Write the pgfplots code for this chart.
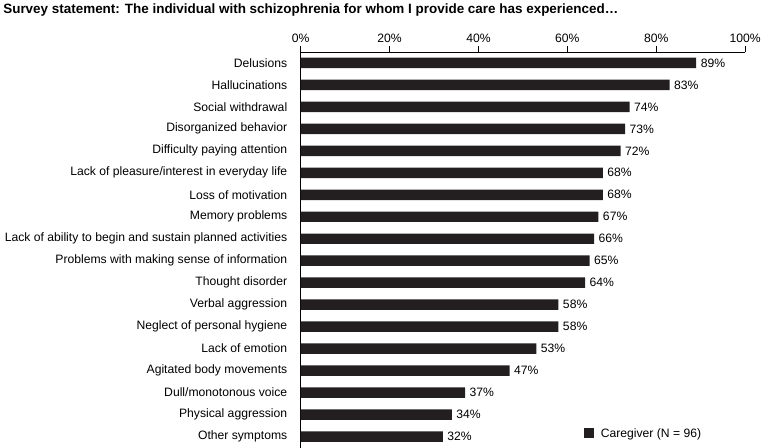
\documentclass[border=0pt]{standalone}
\usepackage{pgfplots}
\pgfplotsset{compat=1.18}
\usepackage{fontspec}
\setmainfont{Liberation Sans}
\definecolor{barcol}{HTML}{231F20}
\newcommand{\lblfont}{\fontsize{12.2}{14}\selectfont}

\begin{document}
\begin{tikzpicture}
\begin{axis}[
    scale only axis,
    width=446pt, height=397pt,
    xbar, bar width=10.5pt,
    y dir=reverse,
    xmin=0, xmax=100,
    ymin=-0.5, ymax=17.5,
    axis x line*=top,
    axis y line*=left,
    xtick={0,20,...,100},
    xticklabel={\pgfmathprintnumber{\tick}\%},
    xticklabel style={font=\lblfont},
    /pgf/number format/assume math mode=true,
    tick align=outside,
    major tick length=6pt,
    ytick={0,...,17},
    yticklabels={Delusions, Hallucinations, Social withdrawal, Disorganized behavior,
        Difficulty paying attention, Lack of pleasure/interest in everyday life,
        Loss of motivation, Memory problems,
        Lack of ability to begin and sustain planned activities,
        Problems with making sense of information, Thought disorder,
        Verbal aggression, Neglect of personal hygiene, Lack of emotion,
        Agitated body movements, Dull/monotonous voice, Physical aggression,
        Other symptoms},
    yticklabel style={font=\lblfont, xshift=-4pt},
    ytick style={draw=none},
    axis line style={line width=0.8pt, black},
    tick style={line width=0.8pt, black},
    nodes near coords={\pgfmathprintnumber{\pgfplotspointmeta}\%},
    nodes near coords style={font=\lblfont, anchor=west, xshift=1pt},
    clip=false,
    legend style={at={(rel axis cs:0.63,0.012)}, anchor=south west, draw=none,
        fill=none, font=\lblfont},
    legend image code/.code={\fill[barcol] (0pt,-5pt) rectangle (10pt,5pt);
        \path (15pt,0pt);},
]
\addplot[fill=barcol, draw=none] coordinates {
    (89,0) (83,1) (74,2) (73,3) (72,4) (68,5) (68,6) (67,7) (66,8)
    (65,9) (64,10) (58,11) (58,12) (53,13) (47,14) (37,15) (34,16) (32,17)
};
\addlegendentry{Caregiver (N = 96)}
\node[anchor=base west, font=\bfseries\fontsize{13.5}{15}\selectfont]
    at (rel axis cs:0,1) [xshift=-302pt, yshift=39pt]
    {Survey statement: The individual with schizophrenia for whom I provide care has experienced…};
\end{axis}
\end{tikzpicture}
\end{document}
